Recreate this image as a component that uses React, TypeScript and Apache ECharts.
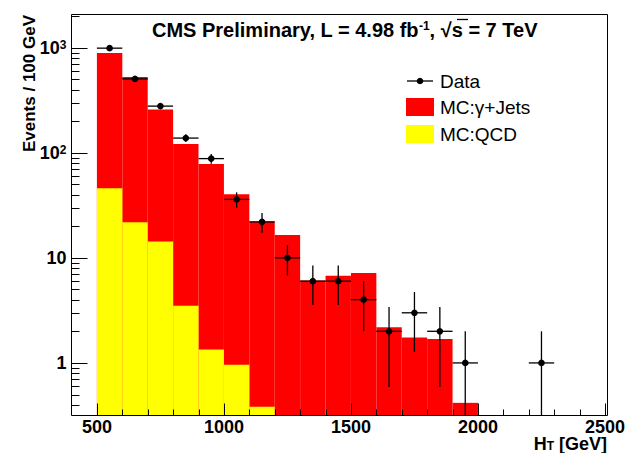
import React, { useEffect, useRef } from 'react';
import * as echarts from 'echarts';

const FONT = '"Liberation Sans", Arial, Helvetica, sans-serif';

// ---- axis ranges ----
const X_MIN = 400;
const X_MAX = 2500;
const Y_MIN = 0.316;
const Y_MAX = 2070;

// ---- histogram bins (lower edges in GeV), 100 GeV wide ----
const binLowEdges = [500, 600, 700, 800, 900, 1000, 1100, 1200, 1300, 1400, 1500, 1600, 1700, 1800, 1900];
const binWidth = 100;
// red histogram ("MC:γ+Jets", stacked top)
const mcGammaJets = [891, 527, 258, 121, 78, 40.3, 22.1, 16.5, 6.1, 6.75, 7.16, 2.18, 1.75, 1.69, 0.417];
// yellow histogram ("MC:QCD")
const mcQCD = [45.9, 21.8, 14.3, 3.5, 1.34, 0.96, 0.382, 0, 0, 0, 0, 0, 0, 0, 0];

// ---- data points ----
const dataHT = [550, 650, 750, 850, 950, 1050, 1150, 1250, 1350, 1450, 1550, 1650, 1750, 1850, 1950, 2250];
const dataEvents = [990, 505, 278, 138, 88, 36, 22, 10, 6, 6, 4, 2, 3, 2, 1, 1];
const dataErrLow = [31, 22.5, 16.7, 11.7, 9.4, 6, 4.7, 3.2, 2.45, 2.45, 2, 1.41, 1.73, 1.41, 1, 1];
const dataErrHigh = [31, 22.5, 16.7, 11.7, 9.4, 6, 4.7, 3.2, 2.45, 2.45, 2, 1.41, 1.73, 1.41, 1, 1];

// ---- tick labels ----
const xTickLabels = [500, 1000, 1500, 2000, 2500];
const yTickValues = [1, 10, 100, 1000];
const yTickBase = ['1', '10', '10', '10'];
const yTickExp = ['', '', '2', '3'];

// ---- legend ----
const legendLabels = ['Data', 'MC:\u03b3+Jets', 'MC:QCD'];
const RED = '#ff0000';
const YELLOW = '#ffff00';

function buildTicks() {
  const ticks: number[][] = [];
  for (let v = 500; v <= X_MAX; v += 100) {
    ticks.push([v, 1, xTickLabels.includes(v) ? 0 : 1]);
  }
  for (let e = -1; e <= 3; e++) {
    for (let k = 1; k <= 9; k++) {
      const v = k * Math.pow(10, e);
      if (v < Y_MIN || v > Y_MAX) continue;
      ticks.push([X_MIN, v, k === 1 ? 2 : 3]);
    }
  }
  return ticks;
}

function histSeries(name: string, values: number[], color: string, z: number) {
  const data = binLowEdges
    .map((x0, i) => [x0, x0 + binWidth, values[i]])
    .filter((d) => d[2] > 0);
  return {
    type: 'custom',
    name,
    z,
    silent: true,
    encode: { x: [0, 1], y: 2 },
    data,
    renderItem: (params: any, api: any) => {
      const cs = params.coordSys;
      const p0 = api.coord([api.value(0), api.value(2)]);
      const p1 = api.coord([api.value(1), api.value(2)]);
      const bottom = cs.y + cs.height;
      const top = Math.max(p0[1], cs.y);
      return {
        type: 'rect',
        shape: { x: p0[0], y: top, width: p1[0] - p0[0], height: bottom - top },
        style: { fill: color, stroke: null },
      };
    },
  };
}

export default function App() {
  const ref = useRef<HTMLDivElement>(null);
  useEffect(() => {
    const chart = echarts.init(ref.current!, null, { renderer: 'svg' });
    const option: any = {
      animation: false,
      backgroundColor: '#fff',
      grid: { left: 71.5, top: 14.5, right: 20.5, bottom: 37.5, containLabel: false },
      xAxis: {
        type: 'value',
        min: X_MIN,
        max: X_MAX,
        interval: 100,
        axisLine: { show: false },
        axisTick: { show: false },
        splitLine: { show: false },
        axisLabel: {
          margin: 3,
          color: '#000',
          fontFamily: FONT,
          fontSize: 18,
          lineHeight: 16,
          fontWeight: 'bold',
          formatter: (v: number) => (xTickLabels.includes(Math.round(v)) ? String(Math.round(v)) : ''),
        },
      },
      yAxis: {
        type: 'log',
        logBase: 10,
        min: Y_MIN,
        max: Y_MAX,
        axisLine: { show: false },
        axisTick: { show: false },
        splitLine: { show: false },
        minorTick: { show: false },
        axisLabel: {
          margin: 5,
          color: '#000',
          showMinLabel: false,
          showMaxLabel: false,
          formatter: (v: number) => {
            const e = Math.log10(v);
            const i = yTickValues.findIndex((t) => Math.abs(Math.log10(t) - e) < 1e-6);
            if (i < 0) return '';
            return yTickExp[i] ? `{n|${yTickBase[i]}}{s|${yTickExp[i]}}` : `{n|${yTickBase[i]}}`;
          },
          rich: {
            n: { fontFamily: FONT, fontSize: 18, fontWeight: 'bold', color: '#000' },
            s: { fontFamily: FONT, fontSize: 12, fontWeight: 'bold', color: '#000', verticalAlign: 'top' },
          },
        },
      },
      series: [
        histSeries(legendLabels[1], mcGammaJets, RED, 1),
        histSeries(legendLabels[2], mcQCD, YELLOW, 2),
        {
          type: 'custom',
          name: 'ticks',
          z: 5,
          silent: true,
          clip: false,
          encode: { x: 0, y: 1 },
          data: buildTicks(),
          renderItem: (params: any, api: any) => {
            const cs = params.coordSys;
            const kind = api.value(2);
            if (kind < 2) {
              const px = Math.round(api.coord([api.value(0), 1])[0]) + 0.5;
              const len = kind === 0 ? 12 : 6;
              const b = cs.y + cs.height;
              return { type: 'line', shape: { x1: px, y1: b, x2: px, y2: b - len }, style: { stroke: '#000', lineWidth: 1 } };
            }
            const py = Math.round(api.coord([X_MIN, api.value(1)])[1]) + 0.5;
            const len = kind === 2 ? 16 : 8;
            return { type: 'line', shape: { x1: cs.x, y1: py, x2: cs.x + len, y2: py }, style: { stroke: '#000', lineWidth: 1 } };
          },
        },
        {
          type: 'custom',
          name: legendLabels[0],
          z: 6,
          silent: true,
          encode: { x: 0, y: 1 },
          data: dataHT.map((x, i) => [x, dataEvents[i], dataEvents[i] - dataErrLow[i], dataEvents[i] + dataErrHigh[i]]),
          renderItem: (params: any, api: any) => {
            const x = api.value(0);
            const y = api.value(1);
            const lo = Math.max(api.value(2), Y_MIN);
            const hi = api.value(3);
            const c = api.coord([x, y]);
            const l = api.coord([x - binWidth / 2, y]);
            const r = api.coord([x + binWidth / 2, y]);
            const pl = api.coord([x, lo]);
            const ph = api.coord([x, hi]);
            return {
              type: 'group',
              children: [
                { type: 'line', shape: { x1: l[0], y1: c[1], x2: r[0], y2: c[1] }, style: { stroke: '#000', lineWidth: 1.3 } },
                { type: 'line', shape: { x1: c[0], y1: pl[1], x2: c[0], y2: ph[1] }, style: { stroke: '#000', lineWidth: 1.3 } },
                { type: 'circle', shape: { cx: c[0], cy: c[1], r: 3.3 }, style: { fill: '#000' } },
              ],
            };
          },
        },
      ],
      graphic: [
        // frame
        { type: 'rect', silent: true, z: 100, shape: { x: 71.5, y: 14.5, width: 536, height: 401 }, style: { fill: 'none', stroke: '#000', lineWidth: 1 } },
        // title
        {
          type: 'text', x: 152, y: 30, z: 100,
          style: {
            text: '{b|CMS Preliminary, L = 4.98 fb}{s|-1}{b|, \u221as = 7 TeV}',
            verticalAlign: 'middle',
            rich: {
              b: { fontFamily: FONT, fontSize: 20, fontWeight: 'bold', fill: '#000' },
              s: { fontFamily: FONT, fontSize: 12, fontWeight: 'bold', fill: '#000', verticalAlign: 'top' },
            },
          },
        },
        // overline of the square root
        { type: 'line', z: 100, silent: true, shape: { x1: 457, y1: 19.5, x2: 468, y2: 19.5 }, style: { stroke: '#000', lineWidth: 1.3 } },
        // y-axis title
        {
          type: 'text', x: 29, y: 15, rotation: Math.PI / 2, z: 100,
          style: { text: 'Events / 100 GeV', fontFamily: FONT, fontSize: 17, fontWeight: 'bold', fill: '#000', align: 'right', verticalAlign: 'middle' },
        },
        // x-axis title
        {
          type: 'text', x: 607, y: 444, z: 100,
          style: {
            text: '{b|H}{t|T}{b| [GeV]}',
            align: 'right',
            verticalAlign: 'middle',
            rich: {
              b: { fontFamily: FONT, fontSize: 18, lineHeight: 16, fontWeight: 'bold', fill: '#000' },
              t: { fontFamily: FONT, fontSize: 12, lineHeight: 12, fontWeight: 'bold', fill: '#000', verticalAlign: 'bottom' },
            },
          },
        },
        // legend
        { type: 'line', z: 100, shape: { x1: 407, y1: 81, x2: 433, y2: 81 }, style: { stroke: '#000', lineWidth: 1.3 } },
        { type: 'circle', z: 100, shape: { cx: 420, cy: 81, r: 3.3 }, style: { fill: '#000' } },
        { type: 'text', x: 440, y: 81, z: 100, style: { text: legendLabels[0], fontFamily: FONT, fontSize: 19, fill: '#000', verticalAlign: 'middle' } },
        { type: 'rect', z: 100, shape: { x: 406, y: 98, width: 28, height: 18 }, style: { fill: RED } },
        { type: 'text', x: 440, y: 107, z: 100, style: { text: legendLabels[1], fontFamily: FONT, fontSize: 19, fill: '#000', verticalAlign: 'middle' } },
        { type: 'rect', z: 100, shape: { x: 406, y: 125, width: 28, height: 18 }, style: { fill: YELLOW } },
        { type: 'text', x: 440, y: 134, z: 100, style: { text: legendLabels[2], fontFamily: FONT, fontSize: 19, fill: '#000', verticalAlign: 'middle' } },
      ],
    };
    chart.setOption(option);
    return () => chart.dispose();
  }, []);
  return <div ref={ref} style={{ position: 'absolute', left: 0, top: 0, width: 628, height: 453, background: '#fff' }} />;
}
